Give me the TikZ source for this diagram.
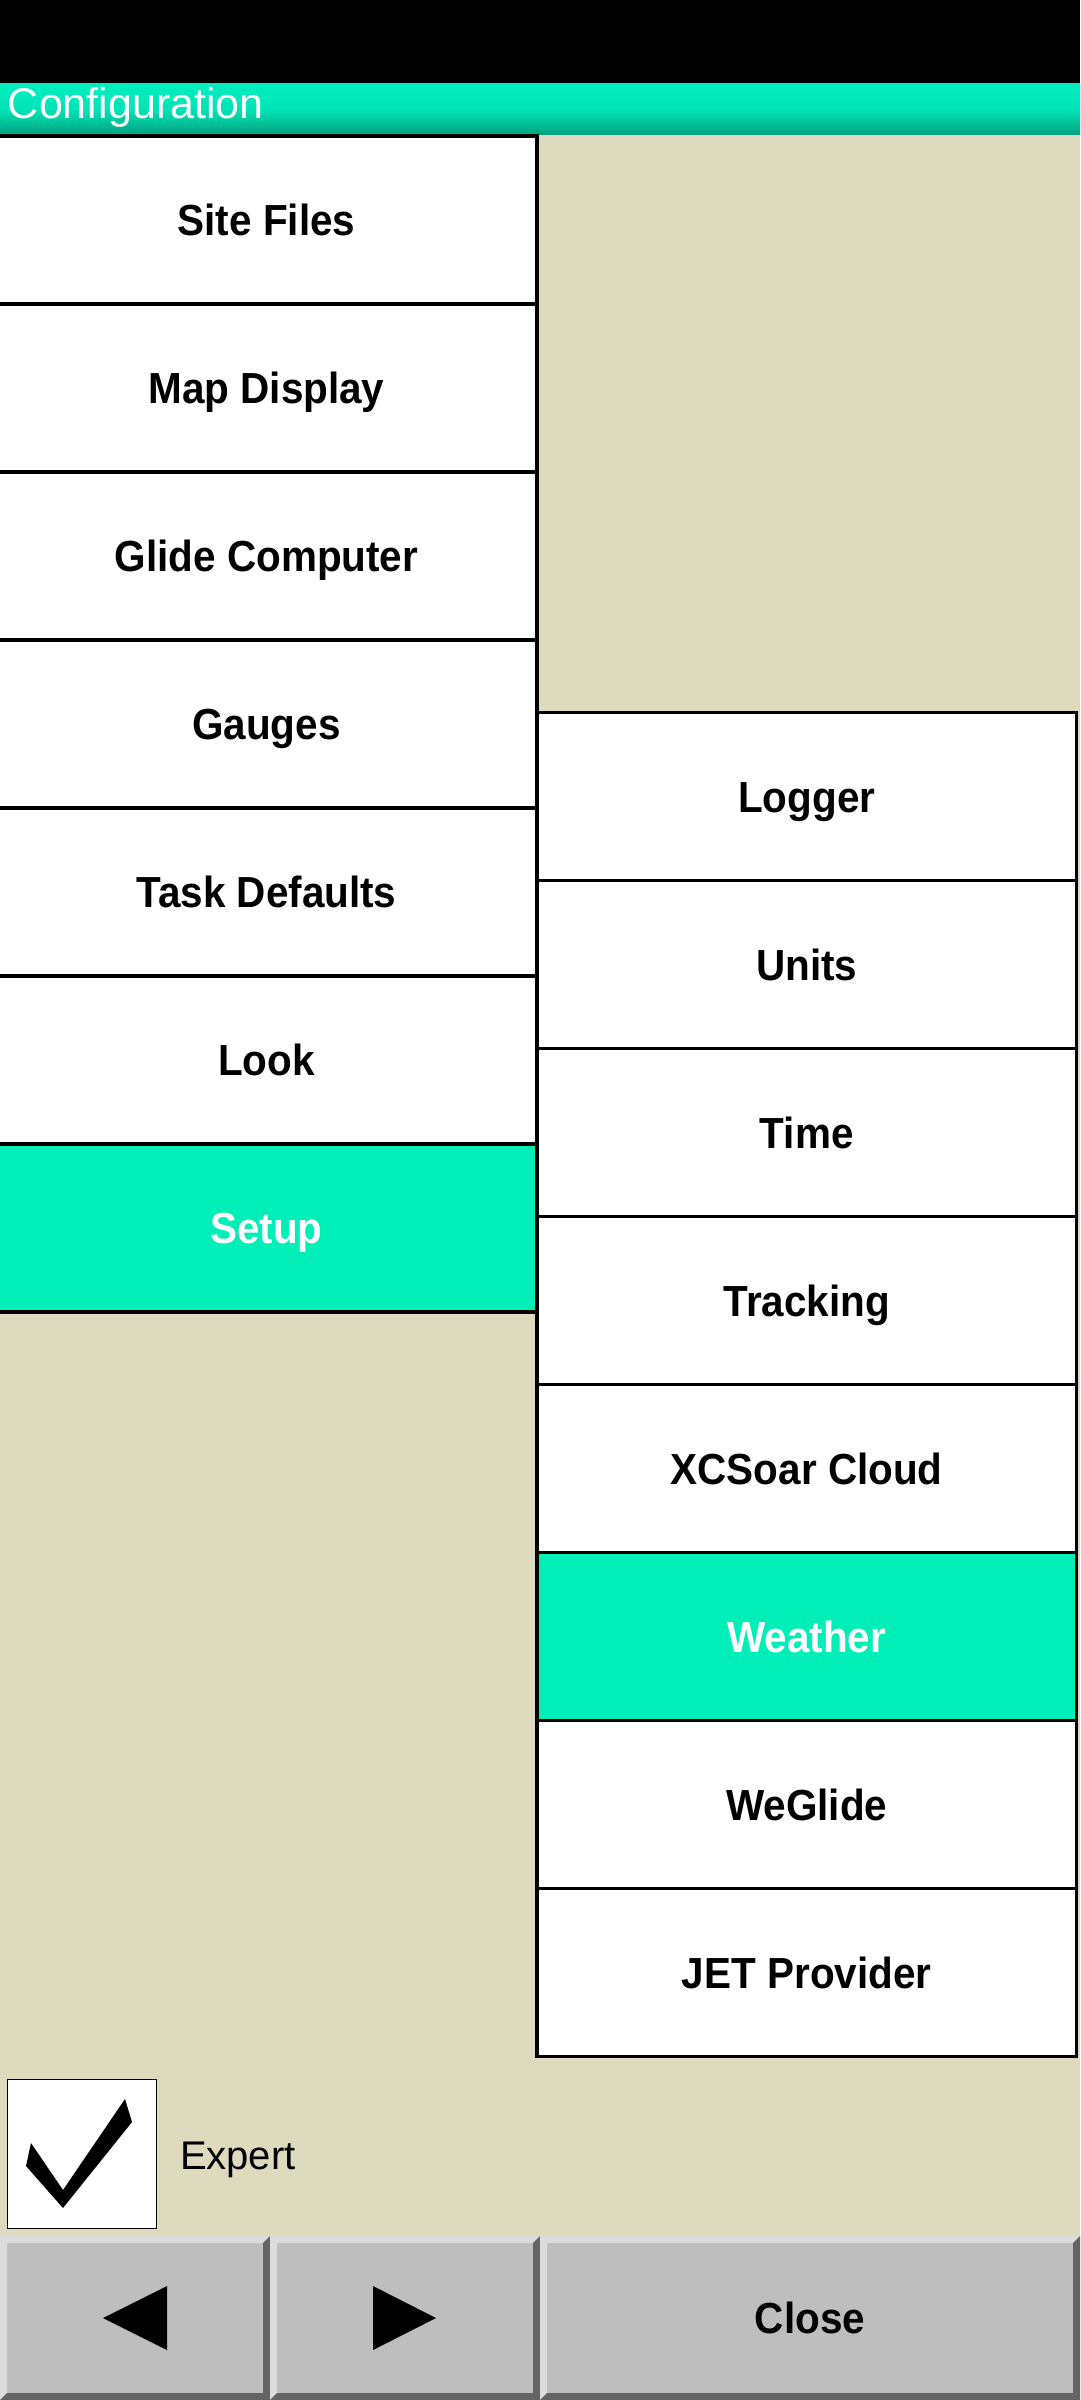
\documentclass[tikz,border=0pt]{standalone}
\usepackage{fontspec}
\setmainfont{Liberation Sans}
\newfontfamily\btnfont[FakeStretch=0.93]{Liberation Sans}
\definecolor{bgc}{HTML}{DEDABE}
\definecolor{hlc}{HTML}{00EEB8}
\definecolor{tealtop}{HTML}{00EFC0}
\definecolor{tealbot}{HTML}{00A27E}
\definecolor{bface}{HTML}{BEBEBE}
\definecolor{blight}{HTML}{DCDCDC}
\definecolor{bdark}{HTML}{646464}
\begin{document}
\begin{tikzpicture}[x=1pt,y=-1pt,
  menubtn/.style={draw=black, line width=3.8pt, fill=white, shape=rectangle,
    inner sep=0pt, outer sep=0pt, text height=31pt, text depth=0pt,
    font=\btnfont\bfseries\fontsize{43.5}{50}\selectfont},
  leftbtn/.style={menubtn, minimum width=541pt, minimum height=168pt},
  rightbtn/.style={menubtn, minimum width=539.5pt, minimum height=168pt},
  selbtn/.style={fill=hlc, text=white},
  lbl/.style={inner sep=0pt, outer sep=0pt},
  bartext/.style={lbl, text height=31pt, text depth=0pt,
    font=\btnfont\bfseries\fontsize{43.5}{50}\selectfont}]
\useasboundingbox (0,0) rectangle (1080,2400);
% status bar and title
\fill[black] (0,0) rectangle (1080,84);
\shade[top color=tealtop, bottom color=tealbot, middle color=tealtop!85!tealbot] (0,84) rectangle (1080,135);
\fill[bgc] (0,135) rectangle (1080,2236);
\node[lbl, anchor=base west, text=white, font=\fontsize{43}{50}\selectfont] (title) at (8,119) {Configuration};
% left column
\node[leftbtn] (sitefiles) at (266.5,220) {Site Files};
\node[leftbtn] (mapdisplay) at (266.5,388) {Map Display};
\node[leftbtn] (glide) at (266.5,556) {Glide Computer};
\node[leftbtn] (gauges) at (266.5,724) {Gauges};
\node[leftbtn] (taskdef) at (266.5,892) {Task Defaults};
\node[leftbtn] (look) at (266.5,1060) {Look};
\node[leftbtn, selbtn] (setup) at (266.5,1228) {Setup};
% right column
\node[rightbtn] (logger) at (806.75,796.5) {Logger};
\node[rightbtn] (units) at (806.75,964.5) {Units};
\node[rightbtn] (time) at (806.75,1132.5) {Time};
\node[rightbtn] (tracking) at (806.75,1300.5) {Tracking};
\node[rightbtn] (cloud) at (806.75,1468.5) {XCSoar Cloud};
\node[rightbtn, selbtn] (weather) at (806.75,1636.5) {Weather};
\node[rightbtn] (weglide) at (806.75,1804.5) {WeGlide};
\node[rightbtn] (jet) at (806.75,1972.5) {JET Provider};
% expert checkbox
\node[draw=black, line width=1pt, fill=white, minimum width=149pt, minimum height=149pt, inner sep=0pt, outer sep=0pt] (checkbox) at (82,2153.5) {};
\fill[black] (31,2143) -- (63,2190) -- (125,2099) -- (132,2122) -- (63,2208) -- (26,2166) -- cycle;
\node[lbl, anchor=base west, font=\fontsize{40}{48}\selectfont] (expert) at (180,2169) {Expert};
% bottom buttons
\foreach \xa/\xb/\nm in {0/270/prevbtn, 270/540/nextbtn, 540/1080/closebtn} {
  \fill[bface] (\xa,2236) rectangle (\xb,2400);
  \fill[blight] (\xa,2236) -- (\xb,2236) -- ({\xb-7},2243) -- ({\xa+7},2243) -- ({\xa+7},2393) -- (\xa,2400) -- cycle;
  \fill[bdark] (\xb,2400) -- (\xb,2236) -- ({\xb-7},2243) -- ({\xb-7},2393) -- ({\xa+7},2393) -- (\xa,2400) -- cycle;
  \coordinate (\nm) at ({(\xa+\xb)/2},2318);
}
\fill[black] (103,2318) -- (167,2286) -- (167,2350) -- cycle;
\fill[black] (373,2286) -- (373,2350) -- (436,2318) -- cycle;
\node[bartext] (close) at (810,2318) {Close};
\end{tikzpicture}
\end{document}
